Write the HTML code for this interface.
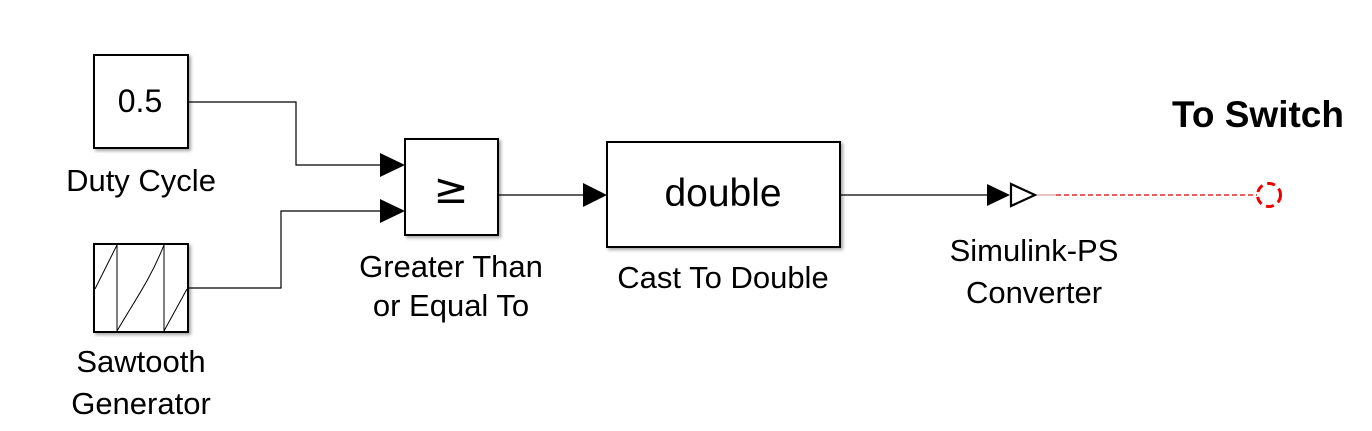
<!DOCTYPE html>
<html><head><meta charset="utf-8"><style>
html,body{margin:0;padding:0;background:#fff;}
svg{display:block;}
text{font-family:"Liberation Sans",sans-serif;fill:#000;}
</style></head><body>
<svg width="1372" height="431" viewBox="0 0 1372 431" xmlns="http://www.w3.org/2000/svg">
<defs>
<filter id="sh" x="-10%" y="-10%" width="130%" height="130%"><feDropShadow dx="2" dy="2" stdDeviation="1.5" flood-color="#000" flood-opacity="0.35"/></filter>
</defs>
<!-- blocks -->
<rect x="94" y="55" width="94" height="93" fill="#fff" stroke="#000" stroke-width="2" filter="url(#sh)"/>
<text x="140" y="112" font-size="32" text-anchor="middle">0.5</text>
<rect x="94" y="244" width="94" height="88" fill="#fff" stroke="#000" stroke-width="2" filter="url(#sh)"/>
<g stroke="#000" stroke-width="1" fill="none">
<line x1="117" y1="245" x2="117" y2="331"/>
<line x1="164" y1="245" x2="164" y2="331"/>
<path d="M95 289 L117 245"/>
<path d="M117 331 C135 300,150 280,164 245"/>
<path d="M164 331 L187 289"/>
</g>
<rect x="405" y="139" width="93" height="96" fill="#fff" stroke="#000" stroke-width="2" filter="url(#sh)"/>
<text x="451" y="203" font-size="42" text-anchor="middle" style="font-family:'DejaVu Sans',sans-serif">≥</text>
<rect x="607" y="142" width="233" height="105" fill="#fff" stroke="#000" stroke-width="2" filter="url(#sh)"/>
<text x="723" y="206" font-size="39" text-anchor="middle">double</text>
<!-- wires -->
<g stroke="#000" stroke-width="1.2" fill="none">
<path d="M188 102 H296 V165 H382"/>
<path d="M188 288 H281 V211 H382"/>
<path d="M498 195 H585"/>
<path d="M840 195 H988"/>
</g>
<g fill="#000">
<path d="M380 153 L405 165 L380 177 Z"/>
<path d="M380 199 L405 211 L380 223 Z"/>
<path d="M583 183 L607 195 L583 207 Z"/>
<path d="M987 184 L1010 195 L987 206 Z"/>
</g>
<path d="M1011 184 L1035 195 L1011 206 Z" fill="#fff" stroke="#000" stroke-width="2.2"/>
<line x1="1037" y1="195" x2="1056" y2="195" stroke="#d9a0a0" stroke-width="1.2"/>
<line x1="1056" y1="195" x2="1257" y2="195" stroke="#d00" stroke-width="1.3" stroke-dasharray="5,3"/>
<circle cx="1269" cy="195" r="11.5" fill="none" stroke="#e00" stroke-width="3" stroke-dasharray="8,5"/>
<!-- labels -->
<g font-size="31" text-anchor="middle">
<text x="141" y="191">Duty Cycle</text>
<text x="141" y="372">Sawtooth</text>
<text x="141" y="414">Generator</text>
<text x="451" y="277">Greater Than</text>
<text x="451" y="316">or Equal To</text>
<text x="723" y="288">Cast To Double</text>
<text x="1034" y="261">Simulink-PS</text>
<text x="1034" y="303">Converter</text>
</g>
<text x="1258" y="127" font-size="37" font-weight="bold" text-anchor="middle">To Switch</text>
</svg>
</body></html>
